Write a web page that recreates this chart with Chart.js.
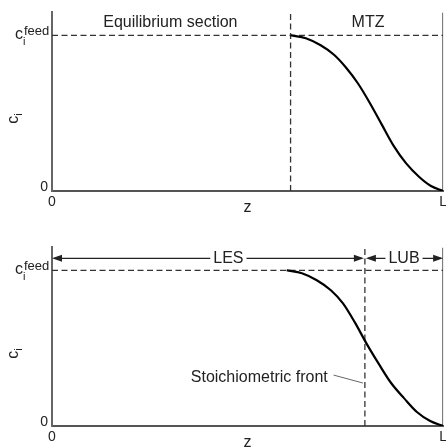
<!DOCTYPE html>
<html>
<head>
<meta charset="utf-8">
<script src="https://cdn.jsdelivr.net/npm/chart.js@4.4.1/dist/chart.umd.min.js"></script>
<style>
  html, body { margin: 0; padding: 0; background: #fff; overflow: hidden; width: 446px; height: 447px; }
  /* canvases are a bit wider than the window so the "L" tick is clipped at the edge like the original */
  canvas { position: absolute; left: 0; }
  #chartTop { top: 0; }
  #chartBot { top: 235px; }
</style>
</head>
<body>
<canvas id="chartTop" width="450" height="223"></canvas>
<canvas id="chartBot" width="450" height="223"></canvas>
<script>
// z is bed position (0..L, L = 1), c is concentration scaled so c_feed = 1
const X_TICKS = [0, 1];
const X_TICK_LABELS = ['0', 'L'];
const Y_TICKS = [0, 1];
const Y_TICK_LABELS = ['0', ''];   // c_i^feed drawn by plugin (needs sub/superscript)
const FEED = 1;
const Y_MAX = 1.147;

// top panel: equilibrium section + MTZ
const topZ = [0.610, 0.649, 0.687, 0.721, 0.751, 0.782, 0.813, 0.844, 0.874, 0.905, 0.939, 0.969, 1.0];
const topC = [1.0, 0.981, 0.936, 0.875, 0.795, 0.692, 0.564, 0.423, 0.288, 0.179, 0.090, 0.032, 0.0];
const topFront = 0.61;

// bottom panel: LES / LUB
const botZ = [0.600, 0.639, 0.677, 0.713, 0.744, 0.774, 0.805, 0.836, 0.867, 0.900, 0.933, 0.967, 1.0];
const botC = [1.0, 0.981, 0.936, 0.872, 0.788, 0.667, 0.526, 0.397, 0.276, 0.179, 0.090, 0.032, 0.0];
const botFront = 0.80;

const FONT = '"Liberation Sans", Arial, Helvetica, sans-serif';
const INK = '#222';
Chart.defaults.font.family = FONT;
Chart.defaults.color = INK;

function pts(xs, ys){ return xs.map((x, i) => ({ x, y: ys[i] })); }

function arrowHead(ctx, tipX, y, dir){
  // dir = -1 points left, +1 points right
  ctx.beginPath();
  ctx.moveTo(tipX, y);
  ctx.lineTo(tipX - dir * 10, y - 3.5);
  ctx.lineTo(tipX - dir * 10, y + 3.5);
  ctx.closePath();
  ctx.fill();
}

function spanArrow(ctx, x1, x2, y, label, cx){
  ctx.font = '16px ' + FONT;
  const w = ctx.measureText(label).width;
  ctx.textAlign = 'center';
  ctx.textBaseline = 'middle';
  ctx.fillText(label, cx, y + 0.5);
  ctx.beginPath();
  ctx.moveTo(x1 + 2, y); ctx.lineTo(cx - w / 2 - 3, y);
  ctx.moveTo(cx + w / 2 + 3, y); ctx.lineTo(x2 - 2, y);
  ctx.stroke();
  arrowHead(ctx, x1, y, -1);
  arrowHead(ctx, x2, y, 1);
}

function textPlugin(extra){
  return {
    id: 'panelText',
    afterDraw(chart){
      const { ctx, scales: { x, y } } = chart;
      ctx.save();
      ctx.fillStyle = INK;
      ctx.strokeStyle = INK;
      // c_i^feed tick label
      const fy = y.getPixelForValue(FEED);
      ctx.textAlign = 'left';
      ctx.textBaseline = 'alphabetic';
      ctx.font = '16px ' + FONT; ctx.fillText('c', 15, fy + 4);
      ctx.font = '13px ' + FONT; ctx.fillText('feed', 24, fy);
      ctx.font = '11px ' + FONT; ctx.fillText('i', 23, fy + 10);
      // y axis title c_i (rotated)
      ctx.save();
      ctx.translate(18, (y.top + y.bottom) / 2 + 22);
      ctx.rotate(-Math.PI / 2);
      ctx.font = '16px ' + FONT; ctx.fillText('c', 0, 0);
      ctx.font = '11px ' + FONT; ctx.fillText('i', 8, 4);
      ctx.restore();
      extra(ctx, x, y);
      ctx.restore();
    }
  };
}

function makeChart(id, curveZ, curveC, front, extra){
  return new Chart(document.getElementById(id), {
    type: 'line',
    data: {
      datasets: [
        { data: pts(curveZ, curveC), borderColor: '#000', borderWidth: 2.2, cubicInterpolationMode: 'monotone', pointRadius: 0 },
        { data: [{ x: 0, y: FEED }, { x: 1, y: FEED }], borderColor: '#333', borderWidth: 1.3, borderDash: [6, 3.5], pointRadius: 0 },
        { data: [{ x: front, y: 0 }, { x: front, y: Y_MAX }], borderColor: '#333', borderWidth: 1.3, borderDash: [6, 3.5], pointRadius: 0 },
        { data: [{ x: 1, y: 0 }, { x: 1, y: Y_MAX }], borderColor: '#444', borderWidth: 1.6, pointRadius: 0 },
      ]
    },
    options: {
      responsive: false, animation: false,
      layout: { padding: { left: 0, right: 0, top: 12, bottom: 0 } },
      plugins: { legend: { display: false }, tooltip: { enabled: false } },
      scales: {
        x: {
          type: 'linear', min: 0, max: 1,
          afterBuildTicks: s => { s.ticks = X_TICKS.map(v => ({ value: v })); },
          afterFit: s => { s.height = 32; },
          ticks: { callback: (v, i) => X_TICK_LABELS[i], font: { size: 14 }, padding: 3, maxRotation: 0, autoSkip: false },
          grid: { display: false, drawTicks: false },
          border: { color: '#555', width: 2 },
          title: { display: true, text: 'z', font: { size: 16 }, padding: { top: 0, bottom: 6 } }
        },
        y: {
          min: 0, max: Y_MAX,
          afterBuildTicks: s => { s.ticks = Y_TICKS.map(v => ({ value: v })); },
          afterFit: s => { s.width = 52; },
          ticks: { callback: (v, i) => Y_TICK_LABELS[i], font: { size: 14 }, padding: 4, labelOffset: -4, autoSkip: false },
          grid: { display: false, drawTicks: false },
          border: { color: '#666', width: 2 }
        }
      }
    },
    plugins: [textPlugin(extra)]
  });
}

makeChart('chartTop', topZ, topC, topFront, (ctx, x, y) => {
  ctx.font = '16px ' + FONT;
  ctx.textAlign = 'center';
  ctx.textBaseline = 'middle';
  ctx.fillText('Equilibrium section', x.getPixelForValue(0.3026), y.getPixelForValue(1.083));
  ctx.fillText('MTZ', x.getPixelForValue(0.808), y.getPixelForValue(1.083));
});

makeChart('chartBot', botZ, botC, botFront, (ctx, x, y) => {
  const ay = y.getPixelForValue(1.077);
  const fx = x.getPixelForValue(botFront);
  ctx.lineWidth = 1.2;
  spanArrow(ctx, x.getPixelForValue(0), fx - 1, ay, 'LES', x.getPixelForValue(0.451));
  spanArrow(ctx, fx + 1, x.getPixelForValue(1), ay, 'LUB', x.getPixelForValue(0.9));
  // stoichiometric front label + leader line
  ctx.font = '16px ' + FONT;
  ctx.textAlign = 'right';
  ctx.textBaseline = 'middle';
  ctx.fillText('Stoichiometric front', x.getPixelForValue(0.705), y.getPixelForValue(0.308));
  ctx.strokeStyle = '#666';
  ctx.lineWidth = 1;
  ctx.beginPath();
  ctx.moveTo(x.getPixelForValue(0.72), y.getPixelForValue(0.327));
  ctx.lineTo(x.getPixelForValue(0.795), y.getPixelForValue(0.276));
  ctx.stroke();
});
</script>
</body>
</html>
